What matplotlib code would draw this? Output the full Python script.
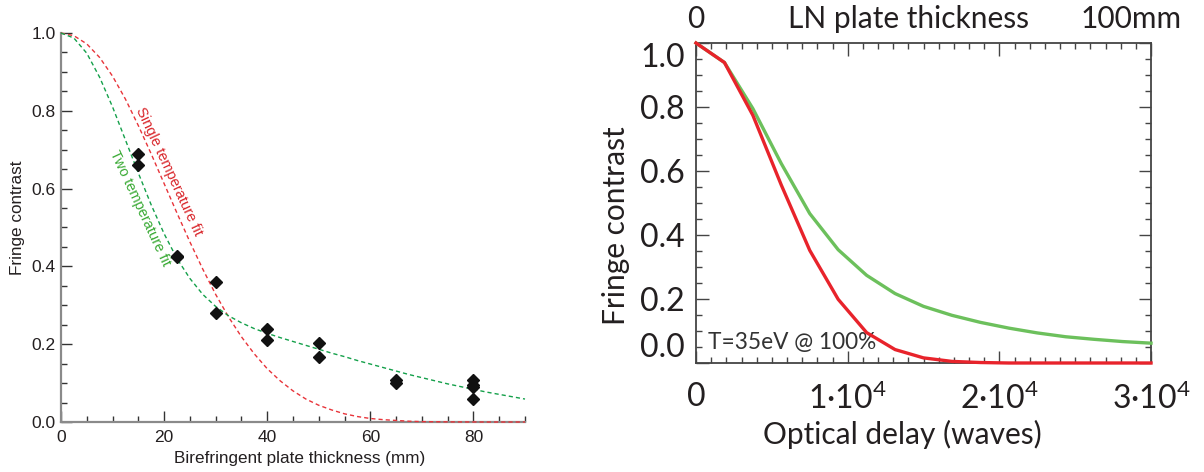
import numpy as np
import matplotlib
matplotlib.use('Agg')
import matplotlib.pyplot as plt
from matplotlib.ticker import MultipleLocator, FixedLocator, FixedFormatter

# ---------------- Left panel data ----------------
meas_thickness = [15, 15, 22.5, 22.5, 30, 30, 40, 40, 50, 50, 65, 65, 80, 80, 80, 80]
meas_contrast = [0.690, 0.661, 0.428, 0.425, 0.359, 0.279, 0.240, 0.212, 0.203, 0.166,
                 0.107, 0.099, 0.109, 0.094, 0.090, 0.060]

fit_thickness = [0, 2.5, 5, 7.5, 10, 12.5, 15, 17.5, 20, 22.5, 25, 27.5, 30, 32.5, 35, 37.5,
                 40, 42.5, 45, 47.5, 50, 52.5, 55, 57.5, 60, 62.5, 65, 67.5, 70, 72.5, 75,
                 77.5, 80, 82.5, 85, 87.5, 90]
single_temp_fit = [1.000, 0.993, 0.972, 0.937, 0.889, 0.830, 0.762, 0.689, 0.613, 0.537,
                   0.463, 0.393, 0.328, 0.270, 0.219, 0.175, 0.137, 0.106, 0.080, 0.059,
                   0.043, 0.031, 0.021, 0.014, 0.009, 0.006, 0.004, 0.002, 0.001, 0.0007,
                   0.0004, 0.0002, 0.0001, 0.0, 0.0, 0.0, 0.0]
two_temp_fit = [1.000, 0.987, 0.948, 0.886, 0.810, 0.725, 0.640, 0.558, 0.484, 0.420,
                0.369, 0.328, 0.297, 0.273, 0.255, 0.240, 0.228, 0.217, 0.207, 0.197,
                0.187, 0.177, 0.168, 0.158, 0.149, 0.140, 0.131, 0.122, 0.114, 0.106,
                0.098, 0.091, 0.084, 0.077, 0.071, 0.065, 0.059]

# ---------------- Right panel data ----------------
optical_delay = [0, 1875, 3750, 5625, 7500, 9375, 11250, 13125, 15000, 16875, 18750,
                 20625, 22500, 24375, 26250, 28125, 30000]
single_temp_model = [1.000, 0.939, 0.774, 0.556, 0.352, 0.199, 0.095, 0.042, 0.016, 0.005,
                     0.0015, 0.0, 0.0, 0.0, 0.0, 0.0, 0.0]
two_temp_model = [1.000, 0.939, 0.795, 0.623, 0.467, 0.354, 0.274, 0.217, 0.177, 0.149,
                  0.127, 0.109, 0.094, 0.082, 0.074, 0.067, 0.062]
right_xticks = [0, 10000, 20000, 30000]
right_xticklabels = ['0', '1\u221910$^{4}$', '2\u221910$^{4}$', '3\u221910$^{4}$']
yticks = [0.0, 0.2, 0.4, 0.6, 0.8, 1.0]
yticklabels = ['0.0', '0.2', '0.4', '0.6', '0.8', '1.0']

W, H = 1204, 472
fig = plt.figure(figsize=(W / 100, H / 100), dpi=100)

plt.rcParams['mathtext.fontset'] = 'custom'
plt.rcParams['mathtext.rm'] = 'Lato'
plt.rcParams['mathtext.it'] = 'Lato'
plt.rcParams['mathtext.bf'] = 'Lato'


def px_axes(x0, y0, x1, y1):
    return fig.add_axes([x0 / W, 1 - y1 / H, (x1 - x0) / W, (y1 - y0) / H])


# ================= Left panel =================
LF = ['Liberation Sans', 'DejaVu Sans']
txt = '#231f20'
axL = px_axes(61, 33, 525, 422)
axL.plot(fit_thickness, single_temp_fit, color='#e8343a', lw=1.0, ls=(0, (3, 2.2)),
         clip_on=False, zorder=3)
axL.plot(fit_thickness, two_temp_fit, color='#14a04a', lw=1.0, ls=(0, (3, 2.2)),
         clip_on=False, zorder=3)
axL.plot(meas_thickness, meas_contrast, ls='none', marker='D', ms=5.8, color='#111111',
         zorder=4)
axL.set_xlim(0, 90)
axL.set_ylim(0, 1.0)
for s in ['top', 'right']:
    axL.spines[s].set_visible(False)
for s in ['left', 'bottom']:
    axL.spines[s].set_color('#8a8a8a')
    axL.spines[s].set_linewidth(1.6)
axL.xaxis.set_major_locator(MultipleLocator(20))
axL.xaxis.set_minor_locator(MultipleLocator(5))
axL.yaxis.set_major_locator(FixedLocator(yticks))
axL.yaxis.set_major_formatter(FixedFormatter(yticklabels))
axL.yaxis.set_minor_locator(MultipleLocator(0.05))
axL.tick_params(which='both', direction='in', colors='#333333', labelcolor=txt,
                labelsize=12.5)
axL.tick_params(which='major', length=8, width=1.0, pad=4)
axL.tick_params(axis='x', which='major', pad=6)
axL.tick_params(which='minor', length=4, width=1.0)
for lab in axL.get_xticklabels() + axL.get_yticklabels():
    lab.set_family(LF)
axL.set_xlabel('Birefringent plate thickness (mm)', family=LF, fontsize=12.3, color=txt)
axL.xaxis.set_label_coords(0.515, -0.075)
axL.set_ylabel('Fringe contrast', family=LF, fontsize=12.3, color=txt)
axL.yaxis.set_label_coords(-0.078, 0.524)
axL.text(20.9, 0.645, 'Single temperature fit', rotation=-65, rotation_mode='anchor',
         ha='center', va='center', family=LF, fontsize=10.5, color='#d9262b')
axL.text(15.3, 0.55, 'Two temperature fit', rotation=-65, rotation_mode='anchor',
         ha='center', va='center', family=LF, fontsize=10.5, color='#3aaa35')

# ================= Right panel =================
RF = ['Lato', 'DejaVu Sans']
rtxt = '#231f20'
axR = px_axes(696, 43, 1151, 363)
axR.plot(optical_delay, two_temp_model, color='#6cc05c', lw=2.4, clip_on=False, zorder=3)
axR.plot(optical_delay, single_temp_model, color='#e8232b', lw=2.4, clip_on=False, zorder=4)
axR.set_xlim(0, 30000)
axR.set_ylim(0, 1.0)
for s in axR.spines.values():
    s.set_color('#444444')
    s.set_linewidth(1.3)
axR.xaxis.set_major_locator(FixedLocator(right_xticks))
axR.xaxis.set_major_formatter(FixedFormatter(right_xticklabels))
axR.xaxis.set_minor_locator(MultipleLocator(1000))
axR.yaxis.set_major_locator(FixedLocator(yticks))
axR.yaxis.set_major_formatter(FixedFormatter(yticklabels))
axR.yaxis.set_minor_locator(MultipleLocator(0.05))
axR.tick_params(which='both', direction='in', top=True, right=True, colors='#444444',
                labelcolor=rtxt, labelsize=23)
axR.tick_params(which='major', length=9, width=1.0)
axR.tick_params(axis='y', which='major', pad=8)
axR.tick_params(axis='x', which='major', pad=14)
axR.tick_params(which='minor', length=4.5, width=1.0)
for lab in axR.get_xticklabels() + axR.get_yticklabels():
    lab.set_family(RF)
ylabs = axR.get_yticklabels()
ylabs[0].set_va('bottom')
ylabs[-1].set_va('top')
axR.set_xlabel('Optical delay (waves)', family=RF, fontsize=21.5, color=rtxt)
axR.xaxis.set_label_coords(0.453, -0.178)
axR.set_ylabel('Fringe contrast', family=RF, fontsize=21.5, color=rtxt)
axR.yaxis.set_label_coords(-0.145, 0.428)
axR.text(0.0, 1.03, '0', transform=axR.transAxes, ha='center', va='bottom',
         family=RF, fontsize=21.5, color=rtxt)
axR.text(0.468, 1.03, 'LN plate thickness', transform=axR.transAxes, ha='center',
         va='bottom', family=RF, fontsize=21.5, color=rtxt)
axR.text(0.956, 1.03, '100mm', transform=axR.transAxes, ha='center', va='bottom',
         family=RF, fontsize=21.5, color=rtxt)
axR.text(0.027, 0.03, 'T=35eV @ 100%', transform=axR.transAxes, ha='left', va='bottom',
         family=RF, fontsize=16.3, color='#333333')

fig.savefig('out.png', dpi=100)
